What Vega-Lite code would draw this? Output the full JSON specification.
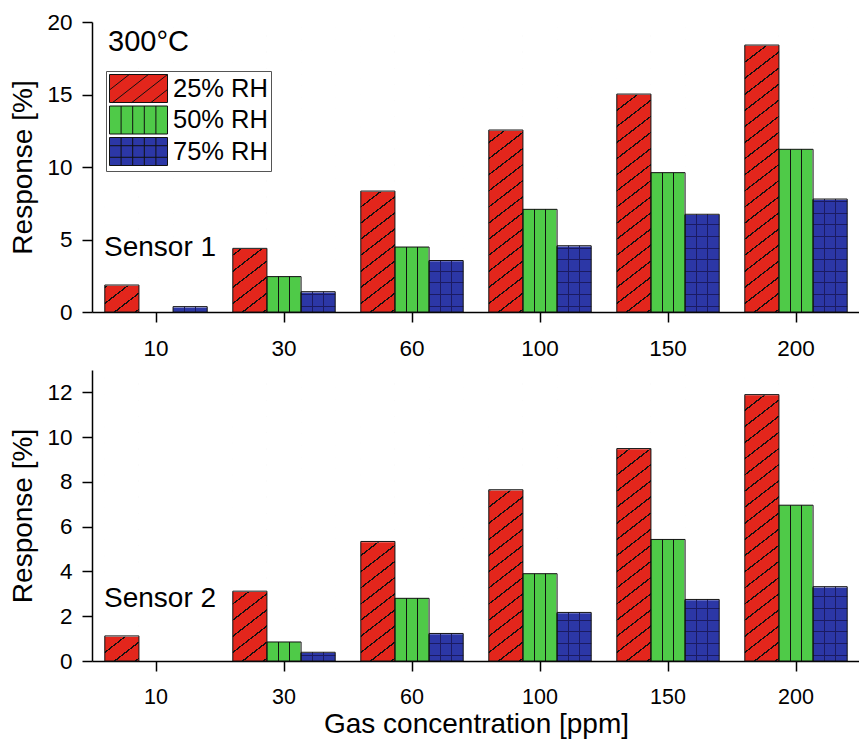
{
  "$schema": "https://vega.github.io/schema/vega-lite/v6.json",
  "padding": {"left": 9, "top": 11, "right": 0, "bottom": 2},
  "background": "#ffffff",
  "spacing": 58,
  "bounds": "flush",
  "params": [
    {"name": "greenLines", "value": {"gradient": "linear", "x1": 0, "y1": 0, "x2": 1, "y2": 0, "stops": [
      {"offset": 0, "color": "transparent"}, {"offset": 0.317, "color": "transparent"}, {"offset": 0.317, "color": "#111"}, {"offset": 0.35, "color": "#111"}, {"offset": 0.35, "color": "transparent"},
      {"offset": 0.65, "color": "transparent"}, {"offset": 0.65, "color": "#111"}, {"offset": 0.683, "color": "#111"}, {"offset": 0.683, "color": "transparent"}, {"offset": 1, "color": "transparent"}
    ]}},
    {"name": "blueLines", "value": {"gradient": "linear", "x1": 0, "y1": 0, "x2": 1, "y2": 0, "stops": [
      {"offset": 0, "color": "transparent"}, {"offset": 0.317, "color": "transparent"}, {"offset": 0.317, "color": "#1b1b62"}, {"offset": 0.35, "color": "#1b1b62"}, {"offset": 0.35, "color": "transparent"},
      {"offset": 0.65, "color": "transparent"}, {"offset": 0.65, "color": "#1b1b62"}, {"offset": 0.683, "color": "#1b1b62"}, {"offset": 0.683, "color": "transparent"}, {"offset": 1, "color": "transparent"}
    ]}},
    {"name": "hatchDiag", "value": {"gradient": "linear", "x1": 0.1, "y1": 1.1, "x2": 0, "y2": 0, "stops": [
      {"offset": 0.0225, "color": "transparent"}, {"offset": 0.0225, "color": "#111"}, {"offset": 0.0275, "color": "#111"}, {"offset": 0.0275, "color": "transparent"},
      {"offset": 0.0725, "color": "transparent"}, {"offset": 0.0725, "color": "#111"}, {"offset": 0.0775, "color": "#111"}, {"offset": 0.0775, "color": "transparent"},
      {"offset": 0.1225, "color": "transparent"}, {"offset": 0.1225, "color": "#111"}, {"offset": 0.1275, "color": "#111"}, {"offset": 0.1275, "color": "transparent"},
      {"offset": 0.1725, "color": "transparent"}, {"offset": 0.1725, "color": "#111"}, {"offset": 0.1775, "color": "#111"}, {"offset": 0.1775, "color": "transparent"},
      {"offset": 0.2225, "color": "transparent"}, {"offset": 0.2225, "color": "#111"}, {"offset": 0.2275, "color": "#111"}, {"offset": 0.2275, "color": "transparent"},
      {"offset": 0.2725, "color": "transparent"}, {"offset": 0.2725, "color": "#111"}, {"offset": 0.2775, "color": "#111"}, {"offset": 0.2775, "color": "transparent"},
      {"offset": 0.3225, "color": "transparent"}, {"offset": 0.3225, "color": "#111"}, {"offset": 0.3275, "color": "#111"}, {"offset": 0.3275, "color": "transparent"},
      {"offset": 0.3725, "color": "transparent"}, {"offset": 0.3725, "color": "#111"}, {"offset": 0.3775, "color": "#111"}, {"offset": 0.3775, "color": "transparent"},
      {"offset": 0.4225, "color": "transparent"}, {"offset": 0.4225, "color": "#111"}, {"offset": 0.4275, "color": "#111"}, {"offset": 0.4275, "color": "transparent"},
      {"offset": 0.4725, "color": "transparent"}, {"offset": 0.4725, "color": "#111"}, {"offset": 0.4775, "color": "#111"}, {"offset": 0.4775, "color": "transparent"},
      {"offset": 0.5225, "color": "transparent"}, {"offset": 0.5225, "color": "#111"}, {"offset": 0.5275, "color": "#111"}, {"offset": 0.5275, "color": "transparent"},
      {"offset": 0.5725, "color": "transparent"}, {"offset": 0.5725, "color": "#111"}, {"offset": 0.5775, "color": "#111"}, {"offset": 0.5775, "color": "transparent"},
      {"offset": 0.6225, "color": "transparent"}, {"offset": 0.6225, "color": "#111"}, {"offset": 0.6275, "color": "#111"}, {"offset": 0.6275, "color": "transparent"},
      {"offset": 0.6725, "color": "transparent"}, {"offset": 0.6725, "color": "#111"}, {"offset": 0.6775, "color": "#111"}, {"offset": 0.6775, "color": "transparent"},
      {"offset": 0.7225, "color": "transparent"}, {"offset": 0.7225, "color": "#111"}, {"offset": 0.7275, "color": "#111"}, {"offset": 0.7275, "color": "transparent"},
      {"offset": 0.7725, "color": "transparent"}, {"offset": 0.7725, "color": "#111"}, {"offset": 0.7775, "color": "#111"}, {"offset": 0.7775, "color": "transparent"},
      {"offset": 0.8225, "color": "transparent"}, {"offset": 0.8225, "color": "#111"}, {"offset": 0.8275, "color": "#111"}, {"offset": 0.8275, "color": "transparent"},
      {"offset": 0.8725, "color": "transparent"}, {"offset": 0.8725, "color": "#111"}, {"offset": 0.8775, "color": "#111"}, {"offset": 0.8775, "color": "transparent"},
      {"offset": 0.9225, "color": "transparent"}, {"offset": 0.9225, "color": "#111"}, {"offset": 0.9275, "color": "#111"}, {"offset": 0.9275, "color": "transparent"},
      {"offset": 0.9725, "color": "transparent"}, {"offset": 0.9725, "color": "#111"}, {"offset": 0.9775, "color": "#111"}, {"offset": 0.9775, "color": "transparent"}
    ]}},
    {"name": "hatchGrid", "value": {"gradient": "linear", "x1": 0, "y1": 0, "x2": 0, "y2": 1, "stops": [
      {"offset": 0.018, "color": "transparent"}, {"offset": 0.018, "color": "#1b1b62"}, {"offset": 0.0215, "color": "#1b1b62"}, {"offset": 0.0215, "color": "transparent"},
      {"offset": 0.058, "color": "transparent"}, {"offset": 0.058, "color": "#1b1b62"}, {"offset": 0.0615, "color": "#1b1b62"}, {"offset": 0.0615, "color": "transparent"},
      {"offset": 0.098, "color": "transparent"}, {"offset": 0.098, "color": "#1b1b62"}, {"offset": 0.1015, "color": "#1b1b62"}, {"offset": 0.1015, "color": "transparent"},
      {"offset": 0.138, "color": "transparent"}, {"offset": 0.138, "color": "#1b1b62"}, {"offset": 0.1415, "color": "#1b1b62"}, {"offset": 0.1415, "color": "transparent"},
      {"offset": 0.178, "color": "transparent"}, {"offset": 0.178, "color": "#1b1b62"}, {"offset": 0.1815, "color": "#1b1b62"}, {"offset": 0.1815, "color": "transparent"},
      {"offset": 0.218, "color": "transparent"}, {"offset": 0.218, "color": "#1b1b62"}, {"offset": 0.2215, "color": "#1b1b62"}, {"offset": 0.2215, "color": "transparent"},
      {"offset": 0.258, "color": "transparent"}, {"offset": 0.258, "color": "#1b1b62"}, {"offset": 0.2615, "color": "#1b1b62"}, {"offset": 0.2615, "color": "transparent"},
      {"offset": 0.298, "color": "transparent"}, {"offset": 0.298, "color": "#1b1b62"}, {"offset": 0.3015, "color": "#1b1b62"}, {"offset": 0.3015, "color": "transparent"},
      {"offset": 0.338, "color": "transparent"}, {"offset": 0.338, "color": "#1b1b62"}, {"offset": 0.3415, "color": "#1b1b62"}, {"offset": 0.3415, "color": "transparent"},
      {"offset": 0.378, "color": "transparent"}, {"offset": 0.378, "color": "#1b1b62"}, {"offset": 0.3815, "color": "#1b1b62"}, {"offset": 0.3815, "color": "transparent"},
      {"offset": 0.418, "color": "transparent"}, {"offset": 0.418, "color": "#1b1b62"}, {"offset": 0.4215, "color": "#1b1b62"}, {"offset": 0.4215, "color": "transparent"},
      {"offset": 0.458, "color": "transparent"}, {"offset": 0.458, "color": "#1b1b62"}, {"offset": 0.4615, "color": "#1b1b62"}, {"offset": 0.4615, "color": "transparent"},
      {"offset": 0.498, "color": "transparent"}, {"offset": 0.498, "color": "#1b1b62"}, {"offset": 0.5015, "color": "#1b1b62"}, {"offset": 0.5015, "color": "transparent"},
      {"offset": 0.538, "color": "transparent"}, {"offset": 0.538, "color": "#1b1b62"}, {"offset": 0.5415, "color": "#1b1b62"}, {"offset": 0.5415, "color": "transparent"},
      {"offset": 0.578, "color": "transparent"}, {"offset": 0.578, "color": "#1b1b62"}, {"offset": 0.5815, "color": "#1b1b62"}, {"offset": 0.5815, "color": "transparent"},
      {"offset": 0.618, "color": "transparent"}, {"offset": 0.618, "color": "#1b1b62"}, {"offset": 0.6215, "color": "#1b1b62"}, {"offset": 0.6215, "color": "transparent"},
      {"offset": 0.658, "color": "transparent"}, {"offset": 0.658, "color": "#1b1b62"}, {"offset": 0.6615, "color": "#1b1b62"}, {"offset": 0.6615, "color": "transparent"},
      {"offset": 0.698, "color": "transparent"}, {"offset": 0.698, "color": "#1b1b62"}, {"offset": 0.7015, "color": "#1b1b62"}, {"offset": 0.7015, "color": "transparent"},
      {"offset": 0.738, "color": "transparent"}, {"offset": 0.738, "color": "#1b1b62"}, {"offset": 0.7415, "color": "#1b1b62"}, {"offset": 0.7415, "color": "transparent"},
      {"offset": 0.778, "color": "transparent"}, {"offset": 0.778, "color": "#1b1b62"}, {"offset": 0.7815, "color": "#1b1b62"}, {"offset": 0.7815, "color": "transparent"},
      {"offset": 0.818, "color": "transparent"}, {"offset": 0.818, "color": "#1b1b62"}, {"offset": 0.8215, "color": "#1b1b62"}, {"offset": 0.8215, "color": "transparent"},
      {"offset": 0.858, "color": "transparent"}, {"offset": 0.858, "color": "#1b1b62"}, {"offset": 0.8615, "color": "#1b1b62"}, {"offset": 0.8615, "color": "transparent"},
      {"offset": 0.898, "color": "transparent"}, {"offset": 0.898, "color": "#1b1b62"}, {"offset": 0.9015, "color": "#1b1b62"}, {"offset": 0.9015, "color": "transparent"},
      {"offset": 0.938, "color": "transparent"}, {"offset": 0.938, "color": "#1b1b62"}, {"offset": 0.9415, "color": "#1b1b62"}, {"offset": 0.9415, "color": "transparent"},
      {"offset": 0.978, "color": "transparent"}, {"offset": 0.978, "color": "#1b1b62"}, {"offset": 0.9815, "color": "#1b1b62"}, {"offset": 0.9815, "color": "transparent"}
    ]}}
  ],
  "datasets": {
    "s1": [
      {"conc": 10, "rh": "25% RH", "resp": 1.86},
      {"conc": 10, "rh": "75% RH", "resp": 0.37},
      {"conc": 30, "rh": "25% RH", "resp": 4.39},
      {"conc": 30, "rh": "50% RH", "resp": 2.44},
      {"conc": 30, "rh": "75% RH", "resp": 1.40},
      {"conc": 60, "rh": "25% RH", "resp": 8.34},
      {"conc": 60, "rh": "50% RH", "resp": 4.48},
      {"conc": 60, "rh": "75% RH", "resp": 3.55},
      {"conc": 100, "rh": "25% RH", "resp": 12.55},
      {"conc": 100, "rh": "50% RH", "resp": 7.08},
      {"conc": 100, "rh": "75% RH", "resp": 4.57},
      {"conc": 150, "rh": "25% RH", "resp": 15.03},
      {"conc": 150, "rh": "50% RH", "resp": 9.61},
      {"conc": 150, "rh": "75% RH", "resp": 6.74},
      {"conc": 200, "rh": "25% RH", "resp": 18.41},
      {"conc": 200, "rh": "50% RH", "resp": 11.22},
      {"conc": 200, "rh": "75% RH", "resp": 7.79}
    ],
    "s2": [
      {"conc": 10, "rh": "25% RH", "resp": 1.12},
      {"conc": 30, "rh": "25% RH", "resp": 3.12},
      {"conc": 30, "rh": "50% RH", "resp": 0.85},
      {"conc": 30, "rh": "75% RH", "resp": 0.39},
      {"conc": 60, "rh": "25% RH", "resp": 5.34},
      {"conc": 60, "rh": "50% RH", "resp": 2.80},
      {"conc": 60, "rh": "75% RH", "resp": 1.23},
      {"conc": 100, "rh": "25% RH", "resp": 7.65},
      {"conc": 100, "rh": "50% RH", "resp": 3.90},
      {"conc": 100, "rh": "75% RH", "resp": 2.17},
      {"conc": 150, "rh": "25% RH", "resp": 9.49},
      {"conc": 150, "rh": "50% RH", "resp": 5.43},
      {"conc": 150, "rh": "75% RH", "resp": 2.75},
      {"conc": 200, "rh": "25% RH", "resp": 11.90},
      {"conc": 200, "rh": "50% RH", "resp": 6.96},
      {"conc": 200, "rh": "75% RH", "resp": 3.32}
    ]
  },
  "resolve": {
    "scale": {"x": "independent", "y": "independent", "xOffset": "independent", "color": "independent"},
    "legend": {"color": "independent"}
  },
  "vconcat": [
    {
      "width": 768,
      "height": 290,
      "layer": [
        {
          "data": {"name": "s1"},
          "encoding": {
            "x": {"field": "conc", "type": "ordinal", "scale": {"paddingInner": 0.2, "paddingOuter": 0.1}, "axis": {"title": null, "labelPadding": 15}},
            "xOffset": {"field": "rh", "type": "nominal", "scale": {"domain": ["25% RH", "50% RH", "75% RH"], "paddingInner": 0, "paddingOuter": 0}},
            "y": {
              "field": "resp", "type": "quantitative",
              "scale": {"domain": [0, 20], "nice": false},
              "axis": {
                "title": "Response [%]",
                "values": [0, 2.5, 5, 7.5, 10, 12.5, 15, 17.5, 20],
                "labelExpr": "datum.value % 5 === 0 ? datum.label : ''",
                "encode": {"ticks": {"update": {"x2": {"signal": "datum.value % 5 === 0 ? -10 : -5"}}}}
              }
            }
          },
          "layer": [
            {
              "mark": {"type": "bar"},
              "encoding": {
                "color": {
                  "field": "rh", "type": "nominal",
                  "scale": {"domain": ["25% RH", "50% RH", "75% RH"], "range": ["#e3261c", "#4fca48", "#2c37a6"]},
                  "legend": {
                    "title": null, "orient": "none", "legendX": 14, "legendY": 49, "direction": "vertical",
                    "symbolSize": 784, "symbolStrokeColor": "#111", "symbolStrokeWidth": 1, "symbolOpacity": 1,
                    "labelFont": "Liberation Sans", "labelFontSize": 25.5, "labelColor": "#000", "labelOffset": 35, "labelLimit": 0,
                    "rowPadding": -1.5, "padding": 3, "strokeColor": "#555", "fillColor": "#fff", "cornerRadius": 0,
                    "encode": {"symbols": {"update": {"shape": {"signal": "datum.value === '25% RH' ? 'M-1,-1H3.143V1H-1Z M-1,0.104L0.409,-1 M-0.772,1L1.776,-1 M0.595,1L3.143,-1 M1.962,1L3.143,0.072' : datum.value === '50% RH' ? 'M-1,-1H3.143V1H-1Z M-0.171,-1V1 M0.657,-1V1 M1.486,-1V1 M2.314,-1V1' : 'M-1,-1H3.143V1H-1Z M-0.171,-1V1 M0.657,-1V1 M1.486,-1V1 M2.314,-1V1 M-1,-0.414H3.143 M-1,0.414H3.143'"}}}}
                  }
                }
              }
            },
            {
              "transform": [{"filter": "datum.rh === '25% RH'"}],
              "mark": {"type": "bar", "fill": {"expr": "hatchDiag"}, "strokeWidth": 0},
              "encoding": {"y": {"datum": 0, "type": "quantitative"}, "y2": {"datum": 20}}
            },
            {
              "transform": [{"filter": "datum.rh === '75% RH'"}],
              "mark": {"type": "bar", "fill": {"expr": "hatchGrid"}, "strokeWidth": 0},
              "encoding": {"y": {"datum": 0, "type": "quantitative"}, "y2": {"datum": 20}}
            },
            {
              "transform": [{"filter": "datum.rh !== '50% RH'"}],
              "mark": {"type": "bar", "fill": "#ffffff", "stroke": "#ffffff", "strokeWidth": 1.5},
              "encoding": {"y2": {"datum": 20}}
            },
            {
              "transform": [{"filter": "datum.rh === '50% RH'"}],
              "mark": {"type": "bar", "fill": {"expr": "greenLines"}, "stroke": "#111", "strokeWidth": 1}
            },
            {
              "transform": [{"filter": "datum.rh === '75% RH'"}],
              "mark": {"type": "bar", "fill": {"expr": "blueLines"}, "stroke": "#111", "strokeWidth": 1}
            },
            {
              "transform": [{"filter": "datum.rh === '25% RH'"}],
              "mark": {"type": "bar", "fill": "transparent", "stroke": "#111", "strokeWidth": 1}
            }
          ]
        },
        {
          "data": {"values": [{"note": "300°C"}]},
          "mark": {"type": "text", "align": "left", "baseline": "alphabetic", "fontSize": 29, "dx": -48, "color": "#000"},
          "encoding": {
            "text": {"field": "note"},
            "x": {"datum": 10, "type": "ordinal"},
            "y": {"datum": 18.0, "type": "quantitative"}
          }
        },
        {
          "data": {"values": [{"note": "Sensor 1"}]},
          "mark": {"type": "text", "align": "left", "baseline": "alphabetic", "fontSize": 28, "dx": -52, "color": "#000"},
          "encoding": {
            "text": {"field": "note"},
            "x": {"datum": 10, "type": "ordinal"},
            "y": {"datum": 3.86, "type": "quantitative"}
          }
        }
      ]
    },
    {
      "width": 768,
      "height": 291,
      "layer": [
        {
          "data": {"name": "s2"},
          "encoding": {
            "x": {"field": "conc", "type": "ordinal", "scale": {"paddingInner": 0.2, "paddingOuter": 0.1}, "axis": {"title": "Gas concentration [ppm]", "labelPadding": 15, "labelFontSize": 21.5, "titlePadding": 3, "titleFontSize": 28}},
            "xOffset": {"field": "rh", "type": "nominal", "scale": {"domain": ["25% RH", "50% RH", "75% RH"], "paddingInner": 0, "paddingOuter": 0}},
            "y": {
              "field": "resp", "type": "quantitative",
              "scale": {"domain": [0, 13], "nice": false},
              "axis": {
                "title": "Response [%]",
                "values": [0, 1, 2, 3, 4, 5, 6, 7, 8, 9, 10, 11, 12, 13],
                "labelExpr": "datum.value % 2 === 0 ? datum.label : ''",
                "encode": {"ticks": {"update": {"x2": {"signal": "datum.value % 2 === 0 ? -10 : -5"}}}}
              }
            }
          },
          "layer": [
            {
              "mark": {"type": "bar"},
              "encoding": {
                "color": {
                  "field": "rh", "type": "nominal",
                  "scale": {"domain": ["25% RH", "50% RH", "75% RH"], "range": ["#e3261c", "#4fca48", "#2c37a6"]},
                  "legend": null
                }
              }
            },
            {
              "transform": [{"filter": "datum.rh === '25% RH'"}],
              "mark": {"type": "bar", "fill": {"expr": "hatchDiag"}, "strokeWidth": 0},
              "encoding": {"y": {"datum": 0, "type": "quantitative"}, "y2": {"datum": 13}}
            },
            {
              "transform": [{"filter": "datum.rh === '75% RH'"}],
              "mark": {"type": "bar", "fill": {"expr": "hatchGrid"}, "strokeWidth": 0},
              "encoding": {"y": {"datum": 0, "type": "quantitative"}, "y2": {"datum": 13}}
            },
            {
              "transform": [{"filter": "datum.rh !== '50% RH'"}],
              "mark": {"type": "bar", "fill": "#ffffff", "stroke": "#ffffff", "strokeWidth": 1.5},
              "encoding": {"y2": {"datum": 13}}
            },
            {
              "transform": [{"filter": "datum.rh === '50% RH'"}],
              "mark": {"type": "bar", "fill": {"expr": "greenLines"}, "stroke": "#111", "strokeWidth": 1}
            },
            {
              "transform": [{"filter": "datum.rh === '75% RH'"}],
              "mark": {"type": "bar", "fill": {"expr": "blueLines"}, "stroke": "#111", "strokeWidth": 1}
            },
            {
              "transform": [{"filter": "datum.rh === '25% RH'"}],
              "mark": {"type": "bar", "fill": "transparent", "stroke": "#111", "strokeWidth": 1}
            }
          ]
        },
        {
          "data": {"values": [{"note": "Sensor 2"}]},
          "mark": {"type": "text", "align": "left", "baseline": "alphabetic", "fontSize": 28, "dx": -52, "color": "#000"},
          "encoding": {
            "text": {"field": "note"},
            "x": {"datum": 10, "type": "ordinal"},
            "y": {"datum": 2.40, "type": "quantitative"}
          }
        }
      ]
    }
  ],
  "config": {
    "font": "Liberation Sans",
    "view": {"stroke": null},
    "axis": {
      "labelFont": "Liberation Sans", "labelFontSize": 22.5, "labelColor": "#000",
      "titleFont": "Liberation Sans", "titleFontSize": 28, "titleFontWeight": "normal", "titleColor": "#000",
      "domainColor": "#000", "domainWidth": 1.5, "tickColor": "#000", "tickWidth": 1.5, "tickSize": 10,
      "grid": false, "zindex": 1, "labelPadding": 10, "titlePadding": 9, "labelOverlap": false
    },
    "axisX": {"labelAngle": 0, "titleFontSize": 29}
  }
}
